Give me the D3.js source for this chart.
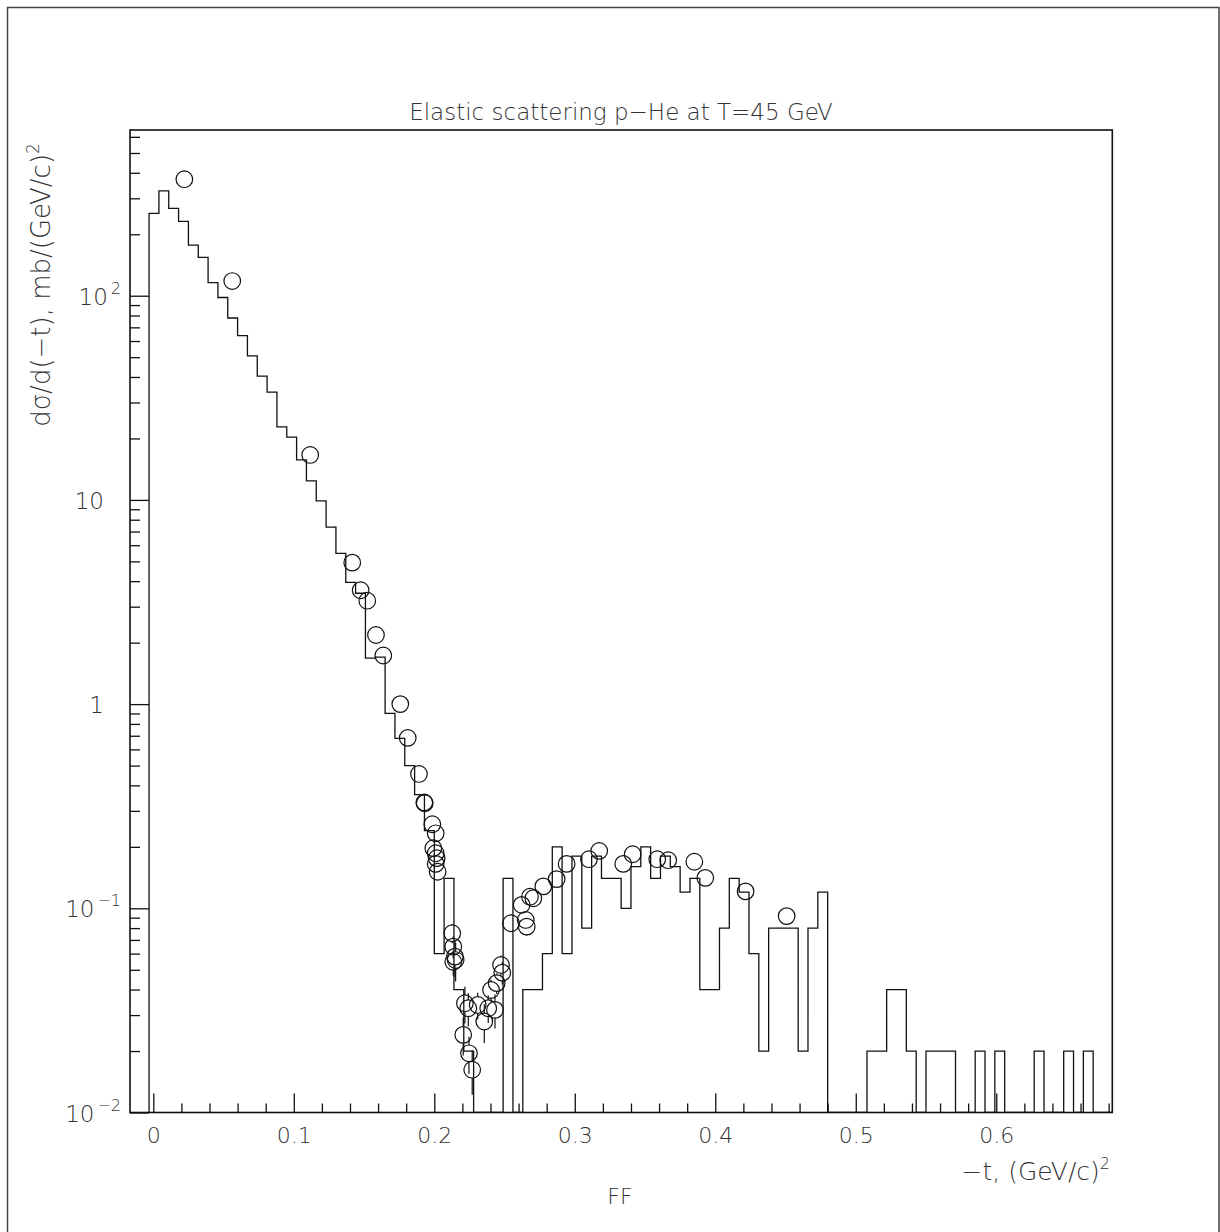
<!DOCTYPE html>
<html>
<head>
<meta charset="utf-8">
<script src="https://cdn.jsdelivr.net/npm/d3@7"></script>
<style>
  body { margin: 0; background: #fff; }
  svg { display: block; }
  text { font-family: "DejaVu Sans", sans-serif; font-weight: 200; fill: #333; }
</style>
</head>
<body>
<svg id="chart" width="1220" height="1232"></svg>
<script>
// Simulated spectrum: fixed-width bins in -t starting at binStart
const binStart = -0.003;
const binWidth = 0.007;
const binValues = [
  253, 326, 268, 231, 177, 154, 116, 98, 77.8, 63.7,
  50.7, 40.4, 33.7, 22.8, 20.3, 15.7, 12.4, 9.9, 7.35, 5.47,
  3.95, 3.49, 1.68, 1.70, 0.90, 0.68, 0.50, 0.36, 0.24, 0.06,
  0.14, 0.04, 0.02, 0, 0, 0, 0.14, 0, 0.04, 0.04,
  0.06, 0.20, 0.06, 0.18, 0.08, 0.18, 0.14, 0.14, 0.10, 0.16,
  0.20, 0.14, 0.18, 0.16, 0.12, 0.14, 0.04, 0.04, 0.08, 0.14,
  0.12, 0.06, 0.02, 0.08, 0.08, 0.08, 0.02, 0.08, 0.12, 0,
  0, 0, 0, 0.02, 0.02, 0.04, 0.04, 0.02, 0, 0.02,
  0.02, 0.02, 0, 0, 0.02, 0, 0.02, 0, 0, 0,
  0.02, 0, 0, 0.02, 0, 0.02, 0, 0
];

// Measured cross sections: -t, dσ/d(-t) and its error
const pointT = [
  0.0221, 0.0562, 0.1117, 0.1416, 0.1476, 0.1523, 0.1585, 0.1637, 0.1758, 0.1811,
  0.1891, 0.1929, 0.1932, 0.1986, 0.2010, 0.1993, 0.2010, 0.2017, 0.2010, 0.2024,
  0.2128, 0.2135, 0.2147, 0.2152, 0.2135, 0.2218, 0.2242, 0.2309, 0.2206, 0.2247,
  0.2270, 0.2356, 0.2384, 0.2404, 0.2432, 0.2444, 0.2475, 0.2484, 0.2546, 0.2622,
  0.2651, 0.2658, 0.2681, 0.2705, 0.2776, 0.2871, 0.2942, 0.3101, 0.3174, 0.3345,
  0.3412, 0.3587, 0.3665, 0.3851, 0.3929, 0.4216, 0.4508
];
const pointV = [
  372, 118, 16.6, 4.93, 3.61, 3.21, 2.18, 1.73, 1.0, 0.683,
  0.455, 0.330, 0.327, 0.258, 0.233, 0.197, 0.186, 0.176, 0.165, 0.151,
  0.0755, 0.0649, 0.058, 0.0558, 0.0547, 0.0343, 0.0324, 0.0336, 0.024, 0.0195,
  0.0162, 0.0279, 0.0324, 0.0398, 0.0318, 0.043, 0.0528, 0.0484, 0.0845, 0.104,
  0.0877, 0.0813, 0.114, 0.112, 0.128, 0.139, 0.165, 0.174, 0.191, 0.165,
  0.184, 0.174, 0.172, 0.169, 0.141, 0.121, 0.0916
];
const pointErr = [
  8, 3, 0.5, 0.15, 0.12, 0.10, 0.08, 0.06, 0.04, 0.03,
  0.02, 0.015, 0.015, 0.012, 0.012, 0.010, 0.010, 0.010, 0.010, 0.010,
  0.008, 0.008, 0.012, 0.012, 0.008, 0.007, 0.006, 0.005, 0.005, 0.004,
  0.004, 0.006, 0.005, 0.005, 0.006, 0.005, 0.006, 0.006, 0.008, 0.008,
  0.008, 0.008, 0.008, 0.008, 0.008, 0.008, 0.010, 0.010, 0.010, 0.010,
  0.010, 0.010, 0.010, 0.010, 0.010, 0.010, 0.008
];

// Axis labels
const xTickValues = [0, 0.1, 0.2, 0.3, 0.4, 0.5, 0.6];
const xTickLabels = ["0", "0.1", "0.2", "0.3", "0.4", "0.5", "0.6"];
const yTickValues = [0.01, 0.1, 1, 10, 100];
const yTickBase = ["10", "10", "1", "10", "10"];
const yTickExp = ["−2", "−1", "", "", "2"];

const svg = d3.select("#chart");

const plot = { left: 130, right: 1112.3, top: 130, bottom: 1112.5 };
const x = d3.scaleLinear().domain([-0.01658, 0.6826]).range([plot.left, plot.right]);
const y = d3.scaleLog().domain([0.01, 648]).range([plot.bottom, plot.top]);
const markerR = 8.3;

// Page frame
svg.append("rect")
  .attr("x", 7.5).attr("y", 7.5)
  .attr("width", 1211.5).attr("height", 1240)
  .attr("fill", "none").attr("stroke", "#444").attr("stroke-width", 1.5);

svg.append("defs").append("clipPath").attr("id", "plotClip")
  .append("rect")
  .attr("x", plot.left).attr("y", plot.top)
  .attr("width", plot.right - plot.left).attr("height", plot.bottom - plot.top);

// Minor and major ticks, drawn inward
const isDecade = v => Math.abs(Math.log10(v) - Math.round(Math.log10(v))) < 1e-9;
const yMinor = y.ticks().filter(v => !isDecade(v));
const xMinor = x.ticks(35).filter(v => v >= 0 && Math.abs(v * 10 - Math.round(v * 10)) > 1e-9);

function styleAxis(g) {
  g.select(".domain").remove();
  g.selectAll(".tick line").attr("stroke", "#111").attr("stroke-width", 1.3);
}

svg.append("g").attr("transform", `translate(${plot.left},0)`)
  .call(d3.axisLeft(y).tickValues(yMinor).tickSize(-10).tickFormat(""))
  .call(styleAxis);
svg.append("g").attr("transform", `translate(${plot.left},0)`)
  .call(d3.axisLeft(y).tickValues(yTickValues).tickSize(-19).tickFormat(""))
  .call(styleAxis);

svg.append("g").attr("transform", `translate(0,${plot.bottom})`)
  .call(d3.axisBottom(x).tickValues(xMinor).tickSize(-9).tickFormat(""))
  .call(styleAxis);
svg.append("g").attr("transform", `translate(0,${plot.bottom})`)
  .call(d3.axisBottom(x).tickValues(xTickValues).tickSize(-19).tickPadding(15)
    .tickFormat((d, i) => xTickLabels[i]))
  .call(styleAxis)
  .call(g => g.selectAll(".tick text")
    .attr("font-family", null).attr("font-size", 22).attr("fill", null));

// Y tick labels with powers of ten
const yLab = svg.append("g");
yTickValues.forEach((v, i) => {
  const t = yLab.append("text")
    .attr("font-size", 23)
    .attr("text-anchor", "end");
  if (yTickExp[i]) {
    t.attr("x", 121).attr("y", y(v) + 9);
    t.append("tspan").text(yTickBase[i]);
    t.append("tspan").attr("dx", 3).attr("dy", -11).attr("font-size", 16).text(yTickExp[i]);
  } else {
    t.attr("x", 104).attr("y", y(v) + 9).text(yTickBase[i]);
  }
});

// Histogram outline (empty bins fall to the bottom of the frame)
const histPts = [[x(binStart), plot.bottom]];
binValues.forEach((v, i) => {
  const yy = v > 0 ? y(v) : plot.bottom;
  histPts.push([x(binStart + i * binWidth), yy]);
  histPts.push([x(binStart + (i + 1) * binWidth), yy]);
});
histPts.push([x(binStart + binValues.length * binWidth), plot.bottom]);

const inner = svg.append("g").attr("clip-path", "url(#plotClip)");
inner.append("path")
  .attr("d", d3.line()(histPts))
  .attr("fill", "none").attr("stroke", "#111").attr("stroke-width", 1.3);

// Data points: error bars drawn outside the marker, then open circles
const pts = pointT.map((t, i) => ({ t, v: pointV[i], e: pointErr[i] }));
const errSegs = [];
pts.forEach(d => {
  const cx = x(d.t), cy = y(d.v);
  const top = y(d.v + d.e);
  const bot = y(Math.max(d.v - d.e, 0.0105));
  if (top < cy - markerR) errSegs.push([cx, top, cy - markerR]);
  if (bot > cy + markerR) errSegs.push([cx, cy + markerR, bot]);
});
inner.selectAll("line.err").data(errSegs).join("line")
  .attr("class", "err")
  .attr("x1", d => d[0]).attr("x2", d => d[0])
  .attr("y1", d => d[1]).attr("y2", d => d[2])
  .attr("stroke", "#111").attr("stroke-width", 1.2);
inner.selectAll("circle").data(pts).join("circle")
  .attr("cx", d => x(d.t)).attr("cy", d => y(d.v)).attr("r", markerR)
  .attr("fill", "none").attr("stroke", "#111").attr("stroke-width", 1.2);

// Plot frame
svg.append("rect")
  .attr("x", plot.left).attr("y", plot.top)
  .attr("width", plot.right - plot.left).attr("height", plot.bottom - plot.top)
  .attr("fill", "none").attr("stroke", "#111").attr("stroke-width", 1.6);

// Titles
svg.append("text")
  .attr("x", 621).attr("y", 120).attr("text-anchor", "middle").attr("font-size", 23)
  .text("Elastic scattering p−He at T=45 GeV");

const yt = svg.append("text")
  .attr("transform", "translate(50,285) rotate(-90)")
  .attr("text-anchor", "middle").attr("font-size", 26);
yt.append("tspan").text("dσ/d(−t), mb/(GeV/c)");
yt.append("tspan").attr("dy", -11).attr("font-size", 17).text("2");

const xt = svg.append("text")
  .attr("x", 1110).attr("y", 1180).attr("text-anchor", "end").attr("font-size", 25);
xt.append("tspan").text("−t, (GeV/c)");
xt.append("tspan").attr("dy", -11).attr("font-size", 16).text("2");

svg.append("text")
  .attr("x", 620).attr("y", 1204).attr("text-anchor", "middle").attr("font-size", 22)
  .text("FF");
</script>
</body>
</html>
